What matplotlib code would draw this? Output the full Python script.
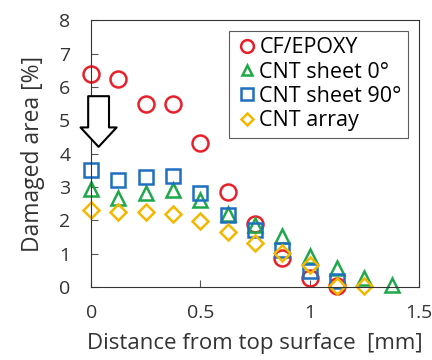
import numpy as np
import matplotlib.pyplot as plt

plt.rcParams['font.family'] = ['Open Sans', 'DejaVu Sans']

dist = [0, 0.125, 0.25, 0.375, 0.5, 0.625, 0.75, 0.875, 1.0, 1.125, 1.25, 1.375]

cf_epoxy = [6.38, 6.23, 5.49, 5.49, 4.33, 2.84, 1.9, 0.87, 0.27, 0.02]
cnt_0 = [2.93, 2.66, 2.81, 2.91, 2.6, 2.2, 1.87, 1.52, 0.94, 0.57, 0.27, 0.07]
cnt_90 = [3.51, 3.2, 3.31, 3.34, 2.83, 2.16, 1.7, 1.12, 0.47, 0.17]
cnt_array = [2.31, 2.26, 2.26, 2.19, 1.99, 1.65, 1.32, 1.02, 0.67, 0.02, 0.02]

series = [
    ("CF/EPOXY", cf_epoxy, "o", "#e8202a", 11.5),
    ("CNT sheet 0°", cnt_0, "^", "#1fa84a", 9.5),
    ("CNT sheet 90°", cnt_90, "s", "#1f6fc0", 10),
    ("CNT array", cnt_array, "D", "#f5b800", 8),
]

fig = plt.figure(figsize=(4.32, 3.6), dpi=100)
ax = fig.add_axes([0.211, 0.203, 0.759, 0.741])

for name, vals, mk, col, ms in series:
    ax.plot(dist[:len(vals)], vals, linestyle="none", marker=mk, ms=ms,
            mfc="none", mec=col, mew=1.8, label=name, clip_on=False)

# hollow arrow pointing down at the surface points
ax.annotate("", xy=(0.034, 4.2), xytext=(0.034, 5.72),
            arrowprops=dict(arrowstyle="simple,head_length=1.4,head_width=2.6,tail_width=1.5",
                            fc="white", ec="black", lw=1.5, shrinkA=0, shrinkB=0),
            annotation_clip=False)

ax.set_xlim(0, 1.5)
ax.set_ylim(0, 8)
ax.set_xticks([0, 0.5, 1, 1.5])
ax.set_xticklabels(["0", "0.5", "1", "1.5"])
ax.set_yticks(range(0, 9))
ax.tick_params(direction="in", labelsize=14, length=5, width=0.8, color="#555555",
               labelcolor="#333333")
ax.tick_params(axis="x", pad=12)
ax.tick_params(axis="y", pad=15)
for s in ax.spines.values():
    s.set_linewidth(0.8)
    s.set_color("#333333")

ax.set_xlabel("Distance from top surface  [mm]", fontsize=16, color="#333333", labelpad=8)
ax.set_ylabel("Damaged area [%]", fontsize=16.5, color="#333333", labelpad=10)

leg = ax.legend(loc="upper right", fontsize=15.5, frameon=True, fancybox=False,
                handletextpad=0.1, handlelength=1.0, borderpad=0.3, labelspacing=0.15,
                markerscale=0.8, borderaxespad=0.5)
leg.get_frame().set_edgecolor("#333333")
leg.get_frame().set_linewidth(0.8)

fig.savefig("out.png", dpi=100)
